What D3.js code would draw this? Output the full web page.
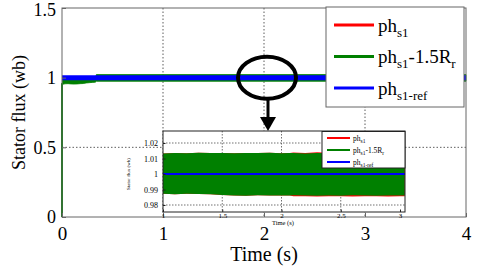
<!DOCTYPE html>
<html>
<head>
<meta charset="utf-8">
<script src="https://cdn.jsdelivr.net/npm/d3@7"></script>
<style>
  body { margin: 0; background: #fff; }
  svg { display: block; }
</style>
</head>
<body>
<svg id="chart" width="480" height="268"></svg>
<script>
// ==========================================================================
// DATA
// ==========================================================================
var xTicks = [0, 1, 2, 3, 4]
var xTickLabels = ["0", "1", "2", "3", "4"]
var yTicks = [0, 0.5, 1, 1.5]
var yTickLabels = ["0", "0.5", "1", "1.5"]

// reference flux
var refTime = [0, 4]
var refFlux = [1, 1]

// green start-up jump
var startTime = [0, 0, 0.005]
var startFlux = [0, 0.955, 0.958]

// green envelope in the main plot
var mainTime  = [0.005, 0.03, 0.06, 0.09, 0.12, 0.15, 0.18, 0.21, 0.24, 0.27, 0.3, 0.33, 0.34, 1, 2, 3, 4]
var mainUpper = [0.995, 0.995, 0.995, 0.995, 0.995, 0.995, 0.995, 0.995, 0.995, 0.995, 0.995, 0.996, 1.022, 1.022, 1.022, 1.022, 1.022]
var mainLower = [0.952, 0.956, 0.957, 0.955, 0.954, 0.955, 0.957, 0.958, 0.962, 0.964, 0.966, 0.968, 0.974, 0.974, 0.974, 0.974, 0.974]

// zoomed window
var insetXTicks = [1, 1.5, 2, 2.5, 3]
var insetXTickLabels = ["1", "1.5", "2", "2.5", "3"]
var insetYTicks = [0.98, 0.99, 1, 1.01, 1.02]
var insetYTickLabels = ["0.98", "0.99", "1", "1.01", "1.02"]
var insetTime = [1.0, 1.1, 1.2, 1.3, 1.4, 1.5, 1.6, 1.7, 1.8, 1.9, 2.0, 2.07, 2.1, 2.2, 2.3, 2.4, 2.5, 2.6, 2.7, 2.8, 2.9, 3.0, 3.04]
var greenHi = [1.0133, 1.0136, 1.0134, 1.0137, 1.0135, 1.0136, 1.0134, 1.0136, 1.0135, 1.0137, 1.0134, 1.0135, 1.0135, 1.0133, 1.0136, 1.0134, 1.0135, 1.0133, 1.0136, 1.0134, 1.0135, 1.0134, 1.0134]
var greenLo = [0.9872, 0.9870, 0.9873, 0.9871, 0.9869, 0.9864, 0.9862, 0.9860, 0.9863, 0.9861, 0.9862, 0.9861, 0.9863, 0.9861, 0.9859, 0.9862, 0.9860, 0.9863, 0.9861, 0.9860, 0.9862, 0.9861, 0.9862]
var redHi   = [1.0133, 1.0136, 1.0134, 1.0137, 1.0135, 1.0136, 1.0134, 1.0136, 1.0135, 1.0137, 1.0134, 1.0135, 1.0139, 1.0136, 1.0140, 1.0137, 1.0139, 1.0136, 1.0140, 1.0138, 1.0139, 1.0137, 1.0138]
var redLo   = [0.9872, 0.9870, 0.9873, 0.9871, 0.9869, 0.9864, 0.9862, 0.9860, 0.9863, 0.9861, 0.9862, 0.9861, 0.9857, 0.9856, 0.9855, 0.9856, 0.9857, 0.9855, 0.9856, 0.9857, 0.9855, 0.9857, 0.9856]

var legendNames = [
  {base: "ph", sub: "s1", tail: "", sub2: "", color: "#ff0000"},
  {base: "ph", sub: "s1", tail: "-1.5R", sub2: "r", color: "#008000"},
  {base: "ph", sub: "s1-ref", tail: "", sub2: "", color: "#0000ff"}
]

// single family only, lists fall back to sans here
var FONT = "'Liberation Serif'"

// ==========================================================================
// MAIN PLOT
// ==========================================================================
var svg = d3.select("#chart").style("font-family", FONT)
var box = {left: 62, right: 466, top: 8, bottom: 217}

var x = d3.scaleLinear().domain([0, 4]).range([box.left, box.right])
var y = d3.scaleLinear().domain([0, 1.5]).range([box.bottom, box.top])

var grid = svg.append("g").attr("stroke", "#333").attr("stroke-width", 0.8).attr("stroke-dasharray", "1.5,2")
grid.selectAll(".gx").data(xTicks.slice(1, -1)).enter().append("line")
  .attr("x1", d=>x(d)).attr("x2", d=>x(d)).attr("y1", box.top).attr("y2", box.bottom)
grid.selectAll(".gy").data(yTicks.slice(1, -1)).enter().append("line")
  .attr("x1", box.left).attr("x2", box.right).attr("y1", d=>y(d)).attr("y2", d=>y(d))

var mainBand = d3.area().x(d=>x(d[0])).y0(d=>y(d[2])).y1(d=>y(d[1]))
svg.append("path")
  .datum(mainTime.map((t,i)=>[t, mainUpper[i], mainLower[i]]))
  .attr("d", mainBand).attr("fill", "#008000").attr("stroke", "#008000").attr("stroke-width", 0.8)

svg.append("path")
  .datum(startTime.map((t,i)=>[t, startFlux[i]]))
  .attr("d", d3.line().x(d=>x(d[0])).y(d=>y(d[1])))
  .attr("fill", "none").attr("stroke", "#008000").attr("stroke-width", 2)

svg.append("path")
  .datum(refTime.map((t,i)=>[t, refFlux[i]]))
  .attr("d", d3.line().x(d=>x(d[0])).y(d=>y(d[1])))
  .attr("fill", "none").attr("stroke", "#0000ff").attr("stroke-width", 5)

// axes box, inward ticks
svg.append("rect").attr("x", box.left).attr("y", box.top)
  .attr("width", box.right-box.left).attr("height", box.bottom-box.top)
  .attr("fill", "none").attr("stroke", "#666").attr("stroke-width", 1)

var xAxis = d3.axisBottom(x).tickValues(xTicks).tickFormat((d,i)=>xTickLabels[i])
  .tickSizeInner(-4).tickSizeOuter(0).tickPadding(10)
var gx = svg.append("g").attr("transform", "translate(0," + box.bottom + ")").call(xAxis)
  .attr("font-family", FONT).attr("font-size", null)
gx.select(".domain").remove()
gx.selectAll("line").attr("stroke", "#666")
gx.selectAll("text").style("font-size", "19px").style("font-family", FONT)

var yAxis = d3.axisLeft(y).tickValues(yTicks).tickFormat((d,i)=>yTickLabels[i])
  .tickSizeInner(-4).tickSizeOuter(0).tickPadding(6)
var gy = svg.append("g").attr("transform", "translate(" + box.left + ",0)").call(yAxis)
  .attr("font-family", FONT).attr("font-size", null)
gy.select(".domain").remove()
gy.selectAll("line").attr("stroke", "#666")
gy.selectAll("text").style("font-size", "18px").style("font-family", FONT)
gy.selectAll(".tick").filter(d=>d==1.5).select("text").attr("dy", "0.4em")

svg.append("text").attr("x", x(2)).attr("y", 261).attr("text-anchor", "middle")
  .style("font-size", "20px").style("font-family", FONT).text("Time (s)")
svg.append("text").attr("transform", "translate(25," + y(0.75) + ") rotate(-90)")
  .attr("text-anchor", "middle").style("font-size", "18px").style("font-family", FONT).text("Stator flux (wb)")

// legend
function drawLegend(g, items, opt) {
  g.append("rect").attr("x", opt.x).attr("y", opt.y).attr("width", opt.w).attr("height", opt.h)
    .attr("fill", "#fff").attr("stroke", opt.border).attr("stroke-width", 1)
  items.forEach(function(d, i) {
    var ly = opt.y + opt.first + i * opt.step
    g.append("line").attr("x1", opt.x + opt.lx0).attr("x2", opt.x + opt.lx1).attr("y1", ly).attr("y2", ly)
      .attr("stroke", d.color).attr("stroke-width", opt.lw)
    var t = g.append("text").attr("x", opt.x + opt.tx).attr("y", ly + opt.base)
      .style("font-size", opt.fs + "px").style("font-family", FONT)
    t.append("tspan").text(d.base)
    t.append("tspan").attr("dy", opt.subDy).style("font-size", opt.subFs + "px").text(d.sub)
    if (d.tail) {
      t.append("tspan").attr("dy", -opt.subDy).text(d.tail)
      t.append("tspan").attr("dy", opt.subDy).style("font-size", opt.subFs + "px").text(d.sub2)
    }
  })
}

drawLegend(svg.append("g"), legendNames, {
  x: 326, y: 7, w: 138, h: 100, border: "#666",
  first: 18, step: 31.5, lx0: 8, lx1: 48, lw: 3, tx: 52, base: 6.5,
  fs: 19, subFs: 13, subDy: 5
})

// zoom marker
svg.append("ellipse").attr("cx", 267).attr("cy", y(1)).attr("rx", 29).attr("ry", 21)
  .attr("fill", "none").attr("stroke", "#000").attr("stroke-width", 4)
svg.append("line").attr("x1", 268).attr("x2", 268).attr("y1", 99).attr("y2", 118)
  .attr("stroke", "#000").attr("stroke-width", 3)
svg.append("path").attr("d", "M260,117 L276,117 L268,131 Z").attr("fill", "#000")

// ==========================================================================
// INSET
// ==========================================================================
var ibox = {left: 163, right: 405, top: 131, bottom: 212}
var ix = d3.scaleLinear().domain([1, 3]).range([163, 400])
var iy = d3.scaleLinear().domain([0.98, 1.02]).range([205, 143])

var inset = svg.append("g")
inset.append("rect").attr("x", ibox.left).attr("y", ibox.top)
  .attr("width", ibox.right-ibox.left).attr("height", ibox.bottom-ibox.top).attr("fill", "#fff")

var igrid = inset.append("g").attr("stroke", "#333").attr("stroke-width", 0.7).attr("stroke-dasharray", "1.5,1.5")
igrid.selectAll(".gx").data(insetXTicks.slice(1, -1)).enter().append("line")
  .attr("x1", d=>ix(d)).attr("x2", d=>ix(d)).attr("y1", ibox.top).attr("y2", ibox.bottom)
igrid.selectAll(".gy").data(insetYTicks).enter().append("line")
  .attr("x1", ibox.left).attr("x2", ibox.right).attr("y1", d=>iy(d)).attr("y2", d=>iy(d))

var insetBand = d3.area().x(d=>ix(d[0])).y0(d=>iy(d[2])).y1(d=>iy(d[1]))
inset.append("path")
  .datum(insetTime.map((t,i)=>[t, redHi[i], redLo[i]]))
  .attr("d", insetBand).attr("fill", "#ff0000")
inset.append("path")
  .datum(insetTime.map((t,i)=>[t, greenHi[i], greenLo[i]]))
  .attr("d", insetBand).attr("fill", "#008000")
inset.append("line").attr("x1", ibox.left).attr("x2", ibox.right).attr("y1", iy(1)).attr("y2", iy(1))
  .attr("stroke", "#0000ff").attr("stroke-width", 2)

inset.append("rect").attr("x", ibox.left).attr("y", ibox.top)
  .attr("width", ibox.right-ibox.left).attr("height", ibox.bottom-ibox.top)
  .attr("fill", "none").attr("stroke", "#222").attr("stroke-width", 1)

var ixAxis = d3.axisBottom(ix).tickValues(insetXTicks).tickFormat((d,i)=>insetXTickLabels[i])
  .tickSizeInner(-2.5).tickSizeOuter(0).tickPadding(1)
var igx = inset.append("g").attr("transform", "translate(0," + ibox.bottom + ")").call(ixAxis)
  .attr("font-family", FONT).attr("font-size", null)
igx.select(".domain").remove()
igx.selectAll("line").attr("stroke", "#222")
igx.selectAll("text").style("font-size", "7px").style("font-family", FONT)

var iyAxis = d3.axisLeft(iy).tickValues(insetYTicks).tickFormat((d,i)=>insetYTickLabels[i])
  .tickSizeInner(-2.5).tickSizeOuter(0).tickPadding(5)
var igy = inset.append("g").attr("transform", "translate(" + ibox.left + ",0)").call(iyAxis)
  .attr("font-family", FONT).attr("font-size", null)
igy.select(".domain").remove()
igy.selectAll("line").attr("stroke", "#222")
igy.selectAll("text").style("font-size", "8px").style("font-family", FONT)

inset.append("text").attr("x", 283).attr("y", 225).attr("text-anchor", "middle")
  .style("font-size", "6.5px").style("font-family", FONT).text("Time (s)")
inset.append("text").attr("transform", "translate(130," + iy(1) + ") rotate(-90)")
  .attr("text-anchor", "middle").style("font-size", "5px").style("font-family", FONT).text("Stator flux (wb)")

drawLegend(inset.append("g"), legendNames, {
  x: 322, y: 131.5, w: 83, h: 36.5, border: "#222",
  first: 6.5, step: 12, lx0: 5, lx1: 28, lw: 2, tx: 31, base: 2.5,
  fs: 7.5, subFs: 5.5, subDy: 2
})
</script>
</body>
</html>
